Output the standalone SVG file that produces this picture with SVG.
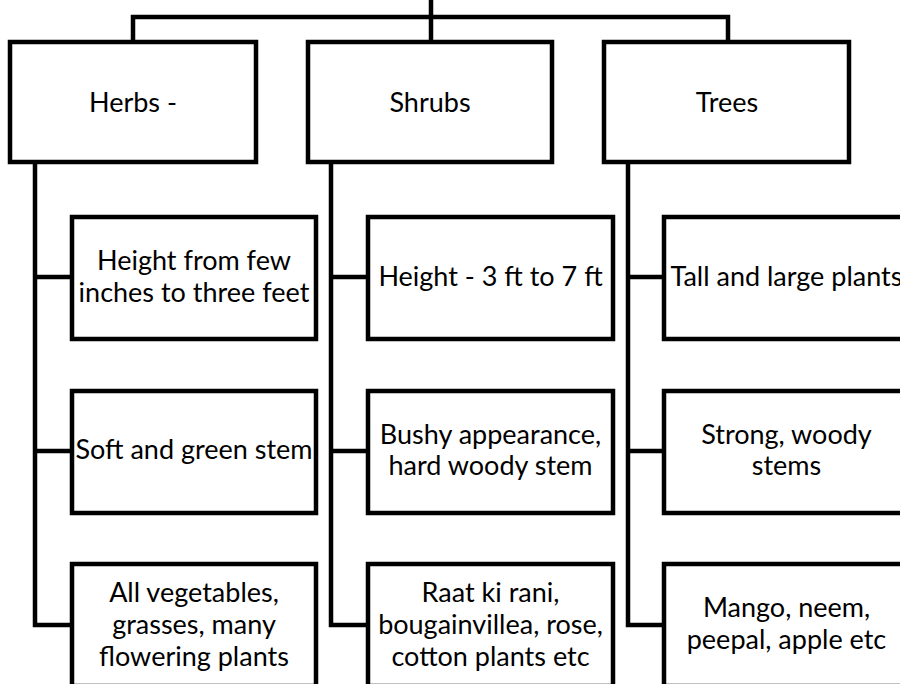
<svg xmlns="http://www.w3.org/2000/svg" width="900" height="684" viewBox="0 0 900 684">
<style>
.box{fill:#fff;stroke:#000;stroke-width:4.5}
.ln{fill:none;stroke:#000;stroke-width:4.5;stroke-linecap:square;stroke-linejoin:miter}
text{font-family:Lato,"Liberation Sans",sans-serif;font-size:27px;fill:#000;text-anchor:middle}
</style>
<rect width="900" height="684" fill="#fff"/>
<g id="connectors">
<path class="ln" d="M431,0 V42 M133,17 H728 M133,17 V42 M728,17 V42"/>
<path class="ln" d="M35,162 V625 H72 M35,277 H72 M35,451 H72"/>
<path class="ln" d="M331,162 V625 H368 M331,277 H368 M331,451 H368"/>
<path class="ln" d="M628,162 V625 H664 M628,277 H664 M628,451 H664"/>
</g>
<g id="herbs"><rect class="box" x="10" y="42" width="246" height="120"/><text x="133" y="112">Herbs -</text></g>
<g id="shrubs"><rect class="box" x="308" y="42" width="244" height="120"/><text x="430" y="112">Shrubs</text></g>
<g id="trees"><rect class="box" x="604" y="42" width="245" height="120"/><text x="727" y="112">Trees</text></g>
<g id="herbs-height"><rect class="box" x="72" y="217" width="244" height="122"/><text x="194" y="270">Height from few</text><text x="194" y="301.7">inches to three feet</text></g>
<g id="herbs-stem"><rect class="box" x="72" y="391" width="244" height="122"/><text x="194" y="459">Soft and green stem</text></g>
<g id="herbs-examples"><rect class="box" x="72" y="564" width="244" height="122"/><text x="194" y="602">All vegetables,</text><text x="194" y="634">grasses, many</text><text x="194" y="666">flowering plants</text></g>
<g id="shrubs-height"><rect class="box" x="368" y="217" width="245" height="122"/><text x="490.5" y="286">Height - 3 ft to 7 ft</text></g>
<g id="shrubs-stem"><rect class="box" x="368" y="391" width="245" height="122"/><text x="490.5" y="443.5">Bushy appearance,</text><text x="490.5" y="475.2">hard woody stem</text></g>
<g id="shrubs-examples"><rect class="box" x="368" y="564" width="245" height="122"/><text x="490.5" y="602">Raat ki rani,</text><text x="490.5" y="634">bougainvillea, rose,</text><text x="490.5" y="666">cotton plants etc</text></g>
<g id="trees-height"><rect class="box" x="664" y="217" width="245" height="122"/><text x="786.5" y="286">Tall and large plants</text></g>
<g id="trees-stem"><rect class="box" x="664" y="391" width="245" height="122"/><text x="786.5" y="443.5">Strong, woody</text><text x="786.5" y="475.2">stems</text></g>
<g id="trees-examples"><rect class="box" x="664" y="564" width="245" height="122"/><text x="786.5" y="617.3">Mango, neem,</text><text x="786.5" y="649">peepal, apple etc</text></g>
</svg>
